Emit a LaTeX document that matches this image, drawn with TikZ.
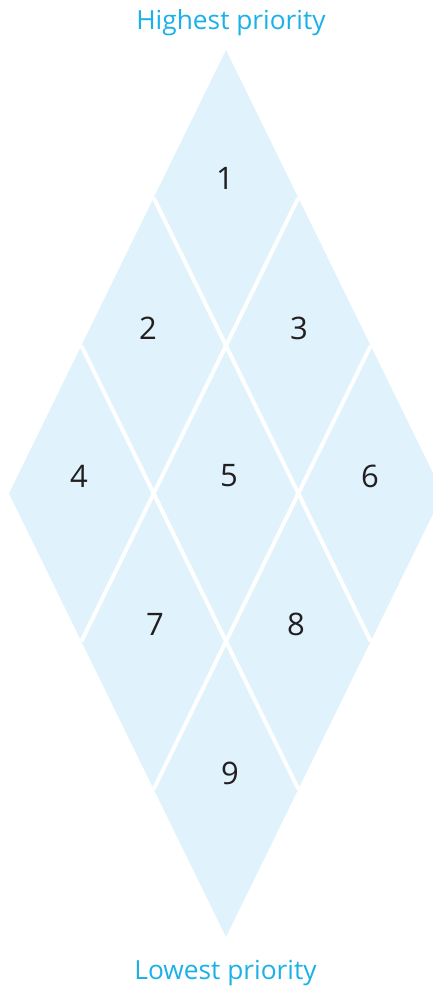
\documentclass[tikz,border=0pt]{standalone}
\usepackage{fontspec}
\setmainfont{Open Sans}
\usetikzlibrary{calc}
\definecolor{rhfill}{HTML}{E0F2FC}
\definecolor{titleblue}{HTML}{1BB1E7}
\definecolor{numdark}{HTML}{231F20}
\tikzset{
  numlabel/.style={text=numdark,font=\fontsize{31}{37}\selectfont,inner sep=0pt,anchor=center},
  titlelabel/.style={text=titleblue,font=\fontsize{26.3}{31}\selectfont,inner sep=0pt,anchor=base},
  gapline/.style={draw=white,line width=4pt,line cap=butt}
}
\begin{document}
\begin{tikzpicture}[x=1pt,y=-1pt]
\useasboundingbox (0,0) rectangle (433,989);
% corners of the big rhombus
\coordinate (T) at (226,50);
\coordinate (R) at (443,493.5);
\coordinate (B) at (226,937);
\coordinate (L) at (9,493.5);
\fill[rhfill] (T) -- (R) -- (B) -- (L) -- cycle;
% division points
\coordinate (l1) at ($(T)!1/3!(L)$);
\coordinate (l2) at ($(T)!2/3!(L)$);
\coordinate (r1) at ($(T)!1/3!(R)$);
\coordinate (r2) at ($(T)!2/3!(R)$);
\coordinate (br1) at ($(R)!1/3!(B)$);
\coordinate (br2) at ($(R)!2/3!(B)$);
\coordinate (bl1) at ($(L)!1/3!(B)$);
\coordinate (bl2) at ($(L)!2/3!(B)$);
\draw[gapline] (l1) -- (br1);
\draw[gapline] (l2) -- (br2);
\draw[gapline] (r1) -- (bl1);
\draw[gapline] (r2) -- (bl2);
% numbers
\node[numlabel] (n1) at (225,178) {1};
\node[numlabel] (n2) at (148,328) {2};
\node[numlabel] (n3) at (299,328) {3};
\node[numlabel] (n4) at (79,476) {4};
\node[numlabel] (n5) at (229,476) {5};
\node[numlabel] (n6) at (370,476) {6};
\node[numlabel] (n7) at (155,624) {7};
\node[numlabel] (n8) at (296,624) {8};
\node[numlabel] (n9) at (230,773) {9};
% titles
\node[titlelabel] (hi) at (231,29.5) {Highest priority};
\node[titlelabel] (lo) at (225.5,979.5) {Lowest priority};
\end{tikzpicture}
\end{document}
